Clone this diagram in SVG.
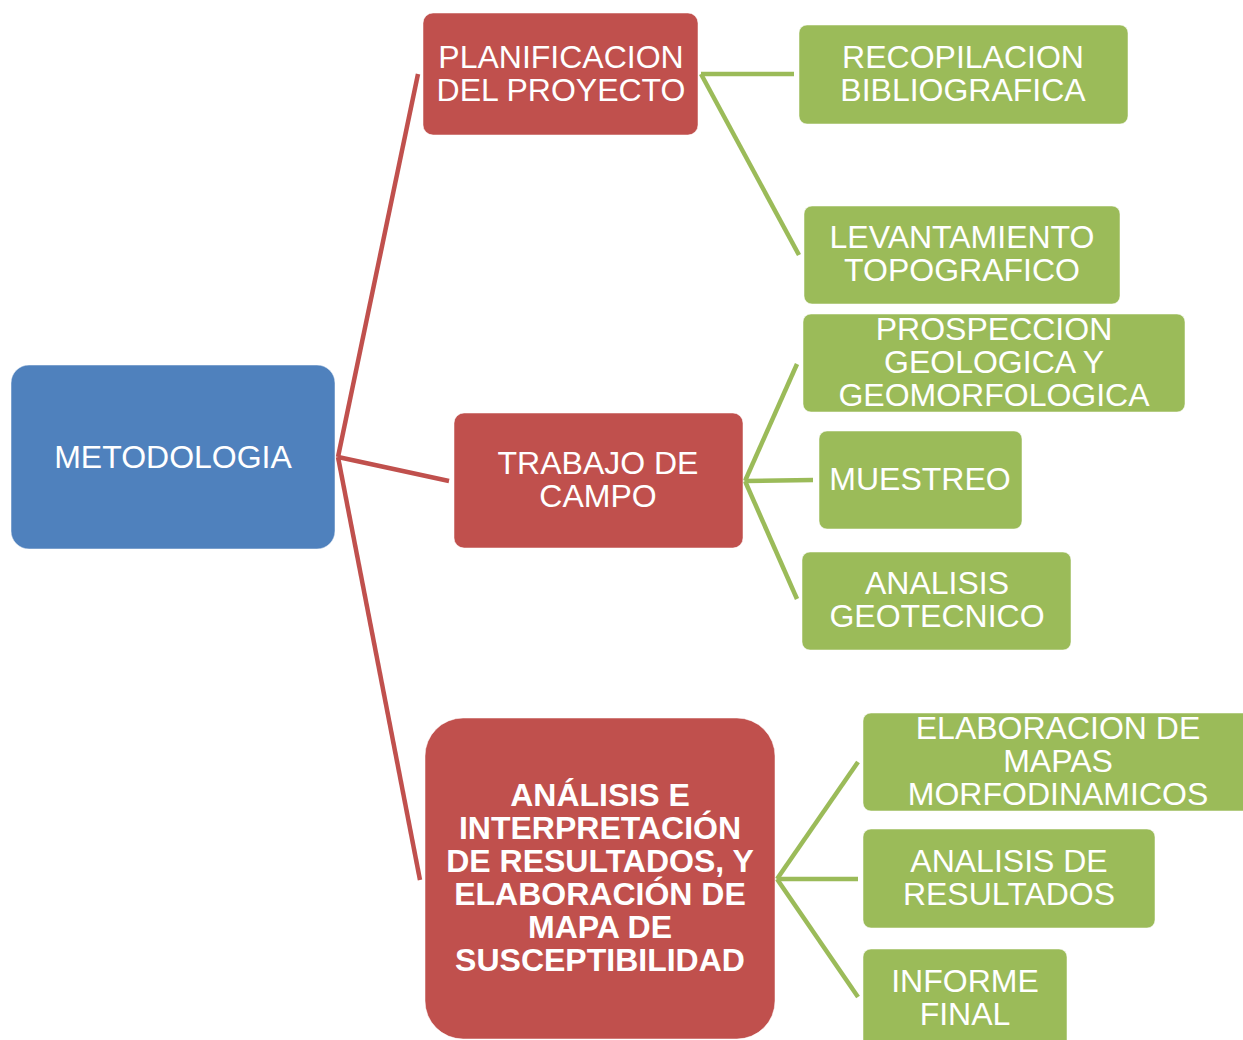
<svg xmlns="http://www.w3.org/2000/svg" width="1243" height="1040" viewBox="0 0 1243 1040">
<style>
.blue{fill:#4F81BD;stroke:#ffffff;stroke-width:1;stroke-opacity:0.5}
.red{fill:#C0504D;stroke:#ffffff;stroke-width:1;stroke-opacity:0.5}
.green{fill:#9BBB59;stroke:#ffffff;stroke-width:1;stroke-opacity:0.5}
.t{font-family:"Liberation Sans",Arial,sans-serif;font-size:32px;fill:#ffffff;text-anchor:middle}
.b{font-weight:bold}
.rl{stroke:#C0504D;stroke-width:4.5;fill:none}
.gl{stroke:#9BBB59;stroke-width:4.5;fill:none}
</style>
<rect width="1243" height="1040" fill="#ffffff"/>
<g id="connectors">
<line class="rl" x1="338" y1="457" x2="418" y2="74"/>
<line class="rl" x1="338" y1="457" x2="449" y2="481"/>
<line class="rl" x1="338" y1="457" x2="420" y2="880"/>
<line class="gl" x1="701" y1="74" x2="794" y2="74"/>
<line class="gl" x1="701" y1="74" x2="799" y2="255"/>
<line class="gl" x1="745" y1="481" x2="797" y2="364"/>
<line class="gl" x1="745" y1="481" x2="813" y2="480"/>
<line class="gl" x1="745" y1="481" x2="797" y2="599"/>
<line class="gl" x1="777" y1="879" x2="858" y2="762"/>
<line class="gl" x1="777" y1="879" x2="858" y2="879"/>
<line class="gl" x1="777" y1="879" x2="858" y2="997"/>
</g>
<g id="metodologia">
<rect class="blue" x="11" y="365" width="324" height="184" rx="18"/>
<text class="t" x="173" y="468">METODOLOGIA</text>
</g>
<g id="planificacion">
<rect class="red" x="423" y="13" width="275" height="122" rx="10"/>
<text class="t" x="561" y="68">PLANIFICACION</text>
<text class="t" x="561" y="101">DEL PROYECTO</text>
</g>
<g id="trabajo">
<rect class="red" x="454" y="413" width="289" height="135" rx="10"/>
<text class="t" x="598" y="474">TRABAJO DE</text>
<text class="t" x="598" y="507">CAMPO</text>
</g>
<g id="analisis">
<rect class="red" x="425" y="718" width="350" height="321" rx="38"/>
<text class="t b" x="600" y="806">ANÁLISIS E</text>
<text class="t b" x="600" y="839">INTERPRETACIÓN</text>
<text class="t b" x="600" y="872">DE RESULTADOS, Y</text>
<text class="t b" x="600" y="905">ELABORACIÓN DE</text>
<text class="t b" x="600" y="938">MAPA DE</text>
<text class="t b" x="600" y="971">SUSCEPTIBILIDAD</text>
</g>
<g id="recopilacion">
<rect class="green" x="799" y="25" width="329" height="99" rx="8"/>
<text class="t" x="963" y="68">RECOPILACION</text>
<text class="t" x="963" y="101">BIBLIOGRAFICA</text>
</g>
<g id="levantamiento">
<rect class="green" x="804" y="206" width="316" height="98" rx="8"/>
<text class="t" x="962" y="248">LEVANTAMIENTO</text>
<text class="t" x="962" y="281">TOPOGRAFICO</text>
</g>
<g id="prospeccion">
<rect class="green" x="803" y="314" width="382" height="98" rx="8"/>
<text class="t" x="994" y="340">PROSPECCION</text>
<text class="t" x="994" y="373">GEOLOGICA Y</text>
<text class="t" x="994" y="406">GEOMORFOLOGICA</text>
</g>
<g id="muestreo">
<rect class="green" x="819" y="431" width="203" height="98" rx="8"/>
<text class="t" x="920" y="490">MUESTREO</text>
</g>
<g id="geotecnico">
<rect class="green" x="802" y="552" width="269" height="98" rx="8"/>
<text class="t" x="937" y="594">ANALISIS</text>
<text class="t" x="937" y="627">GEOTECNICO</text>
</g>
<g id="elaboracion">
<rect class="green" x="863" y="713" width="400" height="98" rx="8"/>
<text class="t" x="1058" y="739">ELABORACION DE</text>
<text class="t" x="1058" y="772">MAPAS</text>
<text class="t" x="1058" y="805">MORFODINAMICOS</text>
</g>
<g id="resultados">
<rect class="green" x="863" y="829" width="292" height="99" rx="8"/>
<text class="t" x="1009" y="872">ANALISIS DE</text>
<text class="t" x="1009" y="905">RESULTADOS</text>
</g>
<g id="informe">
<rect class="green" x="863" y="949" width="204" height="110" rx="8"/>
<text class="t" x="965" y="992">INFORME</text>
<text class="t" x="965" y="1025">FINAL</text>
</g>
</svg>
